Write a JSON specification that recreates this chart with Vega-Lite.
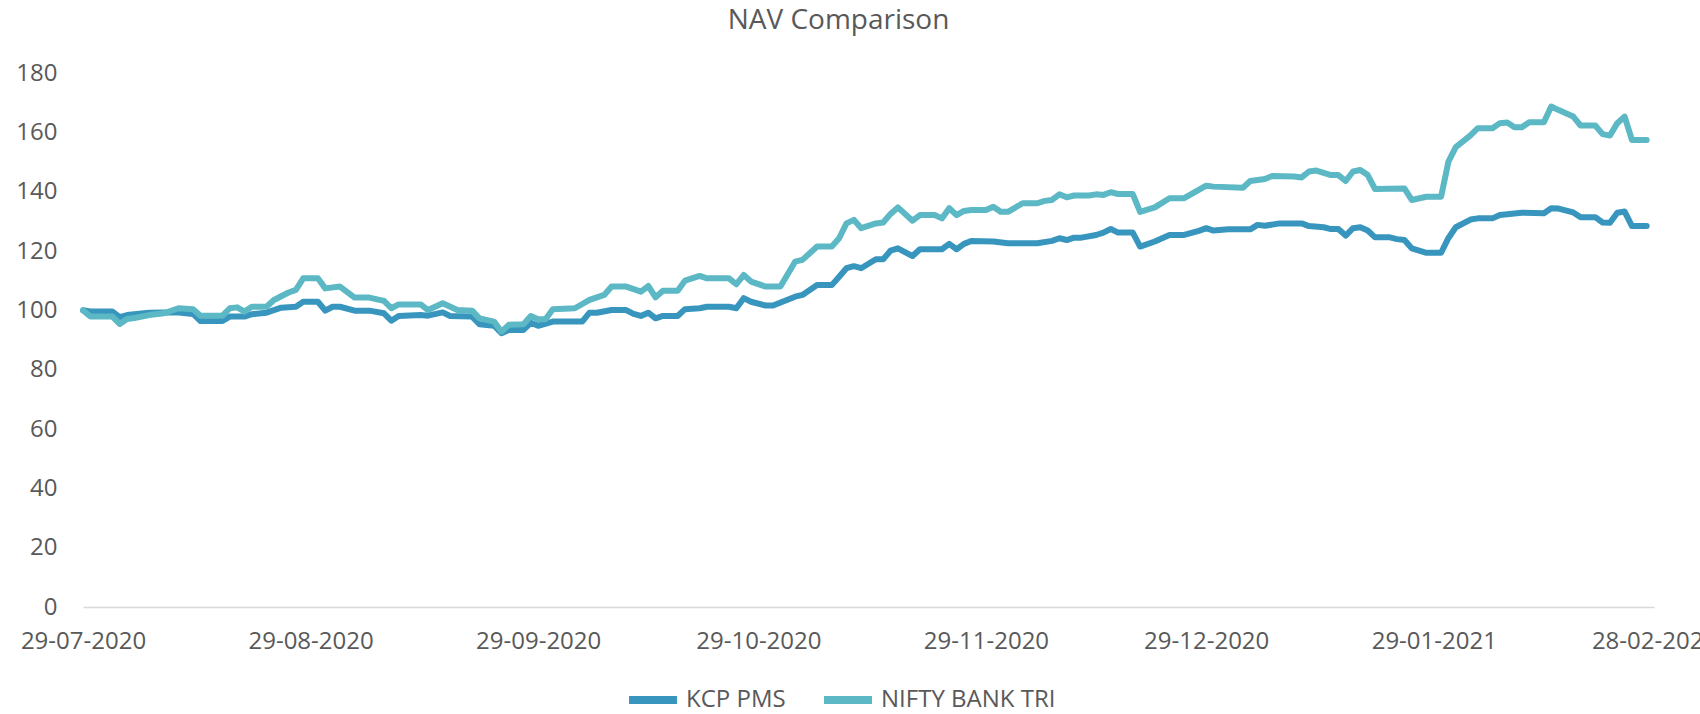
{
  "$schema": "https://vega.github.io/schema/vega-lite/v6.json",
  "autosize": {"type": "none"},
  "padding": {"left": 83, "top": 73, "right": 46, "bottom": 107},
  "width": 1571,
  "height": 534,
  "background": "white",
  "title": {
    "text": "NAV Comparison",
    "font": "Open Sans",
    "fontSize": 28,
    "fontWeight": "normal",
    "color": "#595959",
    "anchor": "middle",
    "frame": "group",
    "offset": 26,
    "dx": -30
  },
  "config": {
    "view": {"stroke": null},
    "font": "Open Sans"
  },
  "data": {
    "values": [
      {"d":"2020-07-29","s":"KCP PMS","v":100.0},
      {"d":"2020-07-30","s":"KCP PMS","v":99.6},
      {"d":"2020-08-02","s":"KCP PMS","v":99.6},
      {"d":"2020-08-03","s":"KCP PMS","v":97.7},
      {"d":"2020-08-04","s":"KCP PMS","v":98.4},
      {"d":"2020-08-07","s":"KCP PMS","v":99.2},
      {"d":"2020-08-09","s":"KCP PMS","v":99.3},
      {"d":"2020-08-11","s":"KCP PMS","v":99.3},
      {"d":"2020-08-13","s":"KCP PMS","v":98.8},
      {"d":"2020-08-14","s":"KCP PMS","v":96.4},
      {"d":"2020-08-17","s":"KCP PMS","v":96.4},
      {"d":"2020-08-18","s":"KCP PMS","v":97.9},
      {"d":"2020-08-20","s":"KCP PMS","v":97.9},
      {"d":"2020-08-21","s":"KCP PMS","v":98.7},
      {"d":"2020-08-23","s":"KCP PMS","v":99.2},
      {"d":"2020-08-25","s":"KCP PMS","v":100.9},
      {"d":"2020-08-27","s":"KCP PMS","v":101.2},
      {"d":"2020-08-28","s":"KCP PMS","v":102.9},
      {"d":"2020-08-30","s":"KCP PMS","v":102.9},
      {"d":"2020-08-31","s":"KCP PMS","v":99.9},
      {"d":"2020-09-01","s":"KCP PMS","v":101.2},
      {"d":"2020-09-02","s":"KCP PMS","v":101.2},
      {"d":"2020-09-04","s":"KCP PMS","v":99.9},
      {"d":"2020-09-06","s":"KCP PMS","v":99.9},
      {"d":"2020-09-08","s":"KCP PMS","v":99.0},
      {"d":"2020-09-09","s":"KCP PMS","v":96.5},
      {"d":"2020-09-10","s":"KCP PMS","v":98.1},
      {"d":"2020-09-13","s":"KCP PMS","v":98.4},
      {"d":"2020-09-14","s":"KCP PMS","v":98.2},
      {"d":"2020-09-16","s":"KCP PMS","v":99.3},
      {"d":"2020-09-17","s":"KCP PMS","v":98.1},
      {"d":"2020-09-20","s":"KCP PMS","v":97.9},
      {"d":"2020-09-21","s":"KCP PMS","v":95.3},
      {"d":"2020-09-23","s":"KCP PMS","v":94.8},
      {"d":"2020-09-24","s":"KCP PMS","v":92.3},
      {"d":"2020-09-25","s":"KCP PMS","v":93.4},
      {"d":"2020-09-27","s":"KCP PMS","v":93.4},
      {"d":"2020-09-28","s":"KCP PMS","v":95.8},
      {"d":"2020-09-29","s":"KCP PMS","v":94.8},
      {"d":"2020-10-01","s":"KCP PMS","v":96.2},
      {"d":"2020-10-05","s":"KCP PMS","v":96.2},
      {"d":"2020-10-06","s":"KCP PMS","v":99.2},
      {"d":"2020-10-07","s":"KCP PMS","v":99.2},
      {"d":"2020-10-09","s":"KCP PMS","v":100.1},
      {"d":"2020-10-11","s":"KCP PMS","v":100.1},
      {"d":"2020-10-12","s":"KCP PMS","v":98.8},
      {"d":"2020-10-13","s":"KCP PMS","v":98.1},
      {"d":"2020-10-14","s":"KCP PMS","v":99.2},
      {"d":"2020-10-15","s":"KCP PMS","v":97.3},
      {"d":"2020-10-16","s":"KCP PMS","v":98.1},
      {"d":"2020-10-18","s":"KCP PMS","v":98.1},
      {"d":"2020-10-19","s":"KCP PMS","v":100.4},
      {"d":"2020-10-21","s":"KCP PMS","v":100.7},
      {"d":"2020-10-22","s":"KCP PMS","v":101.2},
      {"d":"2020-10-25","s":"KCP PMS","v":101.2},
      {"d":"2020-10-26","s":"KCP PMS","v":100.7},
      {"d":"2020-10-27","s":"KCP PMS","v":104.1},
      {"d":"2020-10-28","s":"KCP PMS","v":102.9},
      {"d":"2020-10-30","s":"KCP PMS","v":101.6},
      {"d":"2020-10-31","s":"KCP PMS","v":101.6},
      {"d":"2020-11-03","s":"KCP PMS","v":104.6},
      {"d":"2020-11-04","s":"KCP PMS","v":105.2},
      {"d":"2020-11-06","s":"KCP PMS","v":108.5},
      {"d":"2020-11-08","s":"KCP PMS","v":108.5},
      {"d":"2020-11-09","s":"KCP PMS","v":111.3},
      {"d":"2020-11-10","s":"KCP PMS","v":114.2},
      {"d":"2020-11-11","s":"KCP PMS","v":114.9},
      {"d":"2020-11-12","s":"KCP PMS","v":114.2},
      {"d":"2020-11-14","s":"KCP PMS","v":117.2},
      {"d":"2020-11-15","s":"KCP PMS","v":117.2},
      {"d":"2020-11-16","s":"KCP PMS","v":120.1},
      {"d":"2020-11-17","s":"KCP PMS","v":120.9},
      {"d":"2020-11-19","s":"KCP PMS","v":118.3},
      {"d":"2020-11-20","s":"KCP PMS","v":120.6},
      {"d":"2020-11-23","s":"KCP PMS","v":120.6},
      {"d":"2020-11-24","s":"KCP PMS","v":122.4},
      {"d":"2020-11-25","s":"KCP PMS","v":120.6},
      {"d":"2020-11-26","s":"KCP PMS","v":122.4},
      {"d":"2020-11-27","s":"KCP PMS","v":123.4},
      {"d":"2020-11-30","s":"KCP PMS","v":123.2},
      {"d":"2020-12-02","s":"KCP PMS","v":122.6},
      {"d":"2020-12-06","s":"KCP PMS","v":122.6},
      {"d":"2020-12-08","s":"KCP PMS","v":123.4},
      {"d":"2020-12-09","s":"KCP PMS","v":124.3},
      {"d":"2020-12-10","s":"KCP PMS","v":123.7},
      {"d":"2020-12-11","s":"KCP PMS","v":124.5},
      {"d":"2020-12-12","s":"KCP PMS","v":124.5},
      {"d":"2020-12-14","s":"KCP PMS","v":125.4},
      {"d":"2020-12-15","s":"KCP PMS","v":126.2},
      {"d":"2020-12-16","s":"KCP PMS","v":127.4},
      {"d":"2020-12-17","s":"KCP PMS","v":126.2},
      {"d":"2020-12-19","s":"KCP PMS","v":126.2},
      {"d":"2020-12-20","s":"KCP PMS","v":121.5},
      {"d":"2020-12-22","s":"KCP PMS","v":123.2},
      {"d":"2020-12-24","s":"KCP PMS","v":125.4},
      {"d":"2020-12-26","s":"KCP PMS","v":125.4},
      {"d":"2020-12-28","s":"KCP PMS","v":126.8},
      {"d":"2020-12-29","s":"KCP PMS","v":127.7},
      {"d":"2020-12-30","s":"KCP PMS","v":126.9},
      {"d":"2021-01-01","s":"KCP PMS","v":127.3},
      {"d":"2021-01-04","s":"KCP PMS","v":127.3},
      {"d":"2021-01-05","s":"KCP PMS","v":128.8},
      {"d":"2021-01-06","s":"KCP PMS","v":128.5},
      {"d":"2021-01-08","s":"KCP PMS","v":129.3},
      {"d":"2021-01-11","s":"KCP PMS","v":129.3},
      {"d":"2021-01-12","s":"KCP PMS","v":128.4},
      {"d":"2021-01-14","s":"KCP PMS","v":128.0},
      {"d":"2021-01-15","s":"KCP PMS","v":127.4},
      {"d":"2021-01-16","s":"KCP PMS","v":127.4},
      {"d":"2021-01-17","s":"KCP PMS","v":125.2},
      {"d":"2021-01-18","s":"KCP PMS","v":127.7},
      {"d":"2021-01-19","s":"KCP PMS","v":128.0},
      {"d":"2021-01-20","s":"KCP PMS","v":126.9},
      {"d":"2021-01-21","s":"KCP PMS","v":124.6},
      {"d":"2021-01-23","s":"KCP PMS","v":124.6},
      {"d":"2021-01-24","s":"KCP PMS","v":124.0},
      {"d":"2021-01-25","s":"KCP PMS","v":123.7},
      {"d":"2021-01-26","s":"KCP PMS","v":120.9},
      {"d":"2021-01-28","s":"KCP PMS","v":119.4},
      {"d":"2021-01-30","s":"KCP PMS","v":119.4},
      {"d":"2021-01-31","s":"KCP PMS","v":124.4},
      {"d":"2021-02-01","s":"KCP PMS","v":128.0},
      {"d":"2021-02-03","s":"KCP PMS","v":130.6},
      {"d":"2021-02-04","s":"KCP PMS","v":131.0},
      {"d":"2021-02-06","s":"KCP PMS","v":131.0},
      {"d":"2021-02-07","s":"KCP PMS","v":132.1},
      {"d":"2021-02-10","s":"KCP PMS","v":132.9},
      {"d":"2021-02-13","s":"KCP PMS","v":132.7},
      {"d":"2021-02-14","s":"KCP PMS","v":134.4},
      {"d":"2021-02-15","s":"KCP PMS","v":134.3},
      {"d":"2021-02-17","s":"KCP PMS","v":133.0},
      {"d":"2021-02-18","s":"KCP PMS","v":131.4},
      {"d":"2021-02-20","s":"KCP PMS","v":131.4},
      {"d":"2021-02-21","s":"KCP PMS","v":129.6},
      {"d":"2021-02-22","s":"KCP PMS","v":129.5},
      {"d":"2021-02-23","s":"KCP PMS","v":132.9},
      {"d":"2021-02-24","s":"KCP PMS","v":133.3},
      {"d":"2021-02-25","s":"KCP PMS","v":128.4},
      {"d":"2021-02-27","s":"KCP PMS","v":128.4},

      {"d":"2020-07-29","s":"NIFTY BANK TRI","v":100.0},
      {"d":"2020-07-30","s":"NIFTY BANK TRI","v":97.9},
      {"d":"2020-08-02","s":"NIFTY BANK TRI","v":97.9},
      {"d":"2020-08-03","s":"NIFTY BANK TRI","v":95.4},
      {"d":"2020-08-04","s":"NIFTY BANK TRI","v":97.1},
      {"d":"2020-08-05","s":"NIFTY BANK TRI","v":97.4},
      {"d":"2020-08-07","s":"NIFTY BANK TRI","v":98.4},
      {"d":"2020-08-09","s":"NIFTY BANK TRI","v":99.0},
      {"d":"2020-08-11","s":"NIFTY BANK TRI","v":100.7},
      {"d":"2020-08-13","s":"NIFTY BANK TRI","v":100.4},
      {"d":"2020-08-14","s":"NIFTY BANK TRI","v":98.2},
      {"d":"2020-08-17","s":"NIFTY BANK TRI","v":98.2},
      {"d":"2020-08-18","s":"NIFTY BANK TRI","v":100.7},
      {"d":"2020-08-19","s":"NIFTY BANK TRI","v":101.0},
      {"d":"2020-08-20","s":"NIFTY BANK TRI","v":99.6},
      {"d":"2020-08-21","s":"NIFTY BANK TRI","v":101.2},
      {"d":"2020-08-23","s":"NIFTY BANK TRI","v":101.2},
      {"d":"2020-08-24","s":"NIFTY BANK TRI","v":103.5},
      {"d":"2020-08-26","s":"NIFTY BANK TRI","v":106.0},
      {"d":"2020-08-27","s":"NIFTY BANK TRI","v":106.9},
      {"d":"2020-08-28","s":"NIFTY BANK TRI","v":110.8},
      {"d":"2020-08-30","s":"NIFTY BANK TRI","v":110.8},
      {"d":"2020-08-31","s":"NIFTY BANK TRI","v":107.4},
      {"d":"2020-09-02","s":"NIFTY BANK TRI","v":108.0},
      {"d":"2020-09-04","s":"NIFTY BANK TRI","v":104.3},
      {"d":"2020-09-06","s":"NIFTY BANK TRI","v":104.3},
      {"d":"2020-09-08","s":"NIFTY BANK TRI","v":103.2},
      {"d":"2020-09-09","s":"NIFTY BANK TRI","v":100.7},
      {"d":"2020-09-10","s":"NIFTY BANK TRI","v":102.0},
      {"d":"2020-09-13","s":"NIFTY BANK TRI","v":102.0},
      {"d":"2020-09-14","s":"NIFTY BANK TRI","v":100.1},
      {"d":"2020-09-16","s":"NIFTY BANK TRI","v":102.4},
      {"d":"2020-09-18","s":"NIFTY BANK TRI","v":100.1},
      {"d":"2020-09-20","s":"NIFTY BANK TRI","v":99.9},
      {"d":"2020-09-21","s":"NIFTY BANK TRI","v":97.3},
      {"d":"2020-09-23","s":"NIFTY BANK TRI","v":96.2},
      {"d":"2020-09-24","s":"NIFTY BANK TRI","v":92.8},
      {"d":"2020-09-25","s":"NIFTY BANK TRI","v":95.1},
      {"d":"2020-09-27","s":"NIFTY BANK TRI","v":95.3},
      {"d":"2020-09-28","s":"NIFTY BANK TRI","v":98.1},
      {"d":"2020-09-29","s":"NIFTY BANK TRI","v":97.0},
      {"d":"2020-09-30","s":"NIFTY BANK TRI","v":97.0},
      {"d":"2020-10-01","s":"NIFTY BANK TRI","v":100.4},
      {"d":"2020-10-04","s":"NIFTY BANK TRI","v":100.7},
      {"d":"2020-10-06","s":"NIFTY BANK TRI","v":103.5},
      {"d":"2020-10-08","s":"NIFTY BANK TRI","v":105.2},
      {"d":"2020-10-09","s":"NIFTY BANK TRI","v":108.0},
      {"d":"2020-10-11","s":"NIFTY BANK TRI","v":108.0},
      {"d":"2020-10-13","s":"NIFTY BANK TRI","v":106.3},
      {"d":"2020-10-14","s":"NIFTY BANK TRI","v":108.2},
      {"d":"2020-10-15","s":"NIFTY BANK TRI","v":104.4},
      {"d":"2020-10-16","s":"NIFTY BANK TRI","v":106.6},
      {"d":"2020-10-18","s":"NIFTY BANK TRI","v":106.6},
      {"d":"2020-10-19","s":"NIFTY BANK TRI","v":110.0},
      {"d":"2020-10-21","s":"NIFTY BANK TRI","v":111.6},
      {"d":"2020-10-22","s":"NIFTY BANK TRI","v":110.8},
      {"d":"2020-10-25","s":"NIFTY BANK TRI","v":110.8},
      {"d":"2020-10-26","s":"NIFTY BANK TRI","v":108.8},
      {"d":"2020-10-27","s":"NIFTY BANK TRI","v":111.9},
      {"d":"2020-10-28","s":"NIFTY BANK TRI","v":109.7},
      {"d":"2020-10-30","s":"NIFTY BANK TRI","v":108.0},
      {"d":"2020-11-01","s":"NIFTY BANK TRI","v":108.0},
      {"d":"2020-11-03","s":"NIFTY BANK TRI","v":116.4},
      {"d":"2020-11-04","s":"NIFTY BANK TRI","v":117.0},
      {"d":"2020-11-06","s":"NIFTY BANK TRI","v":121.5},
      {"d":"2020-11-08","s":"NIFTY BANK TRI","v":121.5},
      {"d":"2020-11-09","s":"NIFTY BANK TRI","v":124.3},
      {"d":"2020-11-10","s":"NIFTY BANK TRI","v":129.3},
      {"d":"2020-11-11","s":"NIFTY BANK TRI","v":130.5},
      {"d":"2020-11-12","s":"NIFTY BANK TRI","v":127.7},
      {"d":"2020-11-14","s":"NIFTY BANK TRI","v":129.3},
      {"d":"2020-11-15","s":"NIFTY BANK TRI","v":129.6},
      {"d":"2020-11-16","s":"NIFTY BANK TRI","v":132.5},
      {"d":"2020-11-17","s":"NIFTY BANK TRI","v":134.7},
      {"d":"2020-11-19","s":"NIFTY BANK TRI","v":130.2},
      {"d":"2020-11-20","s":"NIFTY BANK TRI","v":132.1},
      {"d":"2020-11-22","s":"NIFTY BANK TRI","v":132.1},
      {"d":"2020-11-23","s":"NIFTY BANK TRI","v":131.0},
      {"d":"2020-11-24","s":"NIFTY BANK TRI","v":134.4},
      {"d":"2020-11-25","s":"NIFTY BANK TRI","v":132.1},
      {"d":"2020-11-26","s":"NIFTY BANK TRI","v":133.5},
      {"d":"2020-11-27","s":"NIFTY BANK TRI","v":133.8},
      {"d":"2020-11-29","s":"NIFTY BANK TRI","v":133.8},
      {"d":"2020-11-30","s":"NIFTY BANK TRI","v":134.9},
      {"d":"2020-12-01","s":"NIFTY BANK TRI","v":133.2},
      {"d":"2020-12-02","s":"NIFTY BANK TRI","v":133.2},
      {"d":"2020-12-04","s":"NIFTY BANK TRI","v":136.1},
      {"d":"2020-12-06","s":"NIFTY BANK TRI","v":136.1},
      {"d":"2020-12-07","s":"NIFTY BANK TRI","v":136.9},
      {"d":"2020-12-08","s":"NIFTY BANK TRI","v":137.2},
      {"d":"2020-12-09","s":"NIFTY BANK TRI","v":139.1},
      {"d":"2020-12-10","s":"NIFTY BANK TRI","v":138.1},
      {"d":"2020-12-11","s":"NIFTY BANK TRI","v":138.7},
      {"d":"2020-12-13","s":"NIFTY BANK TRI","v":138.7},
      {"d":"2020-12-14","s":"NIFTY BANK TRI","v":139.1},
      {"d":"2020-12-15","s":"NIFTY BANK TRI","v":138.9},
      {"d":"2020-12-16","s":"NIFTY BANK TRI","v":139.8},
      {"d":"2020-12-17","s":"NIFTY BANK TRI","v":139.2},
      {"d":"2020-12-19","s":"NIFTY BANK TRI","v":139.2},
      {"d":"2020-12-20","s":"NIFTY BANK TRI","v":133.2},
      {"d":"2020-12-22","s":"NIFTY BANK TRI","v":134.7},
      {"d":"2020-12-24","s":"NIFTY BANK TRI","v":137.8},
      {"d":"2020-12-26","s":"NIFTY BANK TRI","v":137.8},
      {"d":"2020-12-29","s":"NIFTY BANK TRI","v":142.0},
      {"d":"2020-12-30","s":"NIFTY BANK TRI","v":141.7},
      {"d":"2021-01-03","s":"NIFTY BANK TRI","v":141.3},
      {"d":"2021-01-04","s":"NIFTY BANK TRI","v":143.6},
      {"d":"2021-01-06","s":"NIFTY BANK TRI","v":144.3},
      {"d":"2021-01-07","s":"NIFTY BANK TRI","v":145.3},
      {"d":"2021-01-10","s":"NIFTY BANK TRI","v":145.1},
      {"d":"2021-01-11","s":"NIFTY BANK TRI","v":144.8},
      {"d":"2021-01-12","s":"NIFTY BANK TRI","v":146.8},
      {"d":"2021-01-13","s":"NIFTY BANK TRI","v":147.1},
      {"d":"2021-01-15","s":"NIFTY BANK TRI","v":145.6},
      {"d":"2021-01-16","s":"NIFTY BANK TRI","v":145.6},
      {"d":"2021-01-17","s":"NIFTY BANK TRI","v":143.6},
      {"d":"2021-01-18","s":"NIFTY BANK TRI","v":146.8},
      {"d":"2021-01-19","s":"NIFTY BANK TRI","v":147.3},
      {"d":"2021-01-20","s":"NIFTY BANK TRI","v":145.6},
      {"d":"2021-01-21","s":"NIFTY BANK TRI","v":140.9},
      {"d":"2021-01-25","s":"NIFTY BANK TRI","v":141.1},
      {"d":"2021-01-26","s":"NIFTY BANK TRI","v":137.2},
      {"d":"2021-01-28","s":"NIFTY BANK TRI","v":138.3},
      {"d":"2021-01-30","s":"NIFTY BANK TRI","v":138.3},
      {"d":"2021-01-31","s":"NIFTY BANK TRI","v":150.1},
      {"d":"2021-02-01","s":"NIFTY BANK TRI","v":155.0},
      {"d":"2021-02-03","s":"NIFTY BANK TRI","v":159.0},
      {"d":"2021-02-04","s":"NIFTY BANK TRI","v":161.4},
      {"d":"2021-02-06","s":"NIFTY BANK TRI","v":161.4},
      {"d":"2021-02-07","s":"NIFTY BANK TRI","v":163.1},
      {"d":"2021-02-08","s":"NIFTY BANK TRI","v":163.3},
      {"d":"2021-02-09","s":"NIFTY BANK TRI","v":161.7},
      {"d":"2021-02-10","s":"NIFTY BANK TRI","v":161.7},
      {"d":"2021-02-11","s":"NIFTY BANK TRI","v":163.4},
      {"d":"2021-02-13","s":"NIFTY BANK TRI","v":163.4},
      {"d":"2021-02-14","s":"NIFTY BANK TRI","v":168.7},
      {"d":"2021-02-15","s":"NIFTY BANK TRI","v":167.5},
      {"d":"2021-02-16","s":"NIFTY BANK TRI","v":166.4},
      {"d":"2021-02-17","s":"NIFTY BANK TRI","v":165.3},
      {"d":"2021-02-18","s":"NIFTY BANK TRI","v":162.3},
      {"d":"2021-02-20","s":"NIFTY BANK TRI","v":162.3},
      {"d":"2021-02-21","s":"NIFTY BANK TRI","v":159.4},
      {"d":"2021-02-22","s":"NIFTY BANK TRI","v":158.9},
      {"d":"2021-02-23","s":"NIFTY BANK TRI","v":163.1},
      {"d":"2021-02-24","s":"NIFTY BANK TRI","v":165.3},
      {"d":"2021-02-25","s":"NIFTY BANK TRI","v":157.4},
      {"d":"2021-02-27","s":"NIFTY BANK TRI","v":157.4}
    ]
  },
  "mark": {"type": "line", "strokeWidth": 6, "strokeJoin": "round", "strokeCap": "round"},
  "encoding": {
    "x": {
      "field": "d",
      "type": "temporal",
      "scale": {
        "type": "utc",
        "domain": [
          {"year": 2020, "month": 7, "date": 29, "utc": true},
          {"year": 2021, "month": 2, "date": 28, "utc": true}
        ]
      },
      "axis": {
        "title": null,
        "labelExpr": "utcFormat(datum.value, '%d-%m-%Y')",
        "values": [
          {"year": 2020, "month": 7, "date": 29, "utc": true},
          {"year": 2020, "month": 8, "date": 29, "utc": true},
          {"year": 2020, "month": 9, "date": 29, "utc": true},
          {"year": 2020, "month": 10, "date": 29, "utc": true},
          {"year": 2020, "month": 11, "date": 29, "utc": true},
          {"year": 2020, "month": 12, "date": 29, "utc": true},
          {"year": 2021, "month": 1, "date": 29, "utc": true},
          {"year": 2021, "month": 2, "date": 28, "utc": true}
        ],
        "grid": false,
        "ticks": false,
        "tickSize": 0,
        "domainColor": "#D9D9D9",
        "domainWidth": 1.5,
        "labelFont": "Open Sans",
        "labelFontSize": 24,
        "labelColor": "#595959",
        "labelPadding": 22,
        "labelOverlap": false,
        "labelFlush": false,
        "labelLimit": 400
      }
    },
    "y": {
      "field": "v",
      "type": "quantitative",
      "scale": {"domain": [0, 180], "nice": false, "zero": true},
      "axis": {
        "title": null,
        "values": [0, 20, 40, 60, 80, 100, 120, 140, 160, 180],
        "grid": false,
        "ticks": false,
        "tickSize": 0,
        "domain": false,
        "labelFont": "Open Sans",
        "labelFontSize": 24,
        "labelColor": "#595959",
        "labelPadding": 26
      }
    },
    "color": {
      "field": "s",
      "type": "nominal",
      "scale": {
        "domain": ["KCP PMS", "NIFTY BANK TRI"],
        "range": ["#3896BE", "#5BB8C4"]
      },
      "legend": {
        "title": null,
        "orient": "none",
        "direction": "horizontal",
        "legendX": 542,
        "legendY": 599,
        "symbolType": "stroke",
        "symbolSize": 2300,
        "symbolStrokeWidth": 8,
        "labelFont": "Open Sans",
        "labelFontSize": 24,
        "labelColor": "#595959",
        "labelOffset": 5,
        "labelLimit": 400,
        "columnPadding": 22
      }
    }
  }
}
